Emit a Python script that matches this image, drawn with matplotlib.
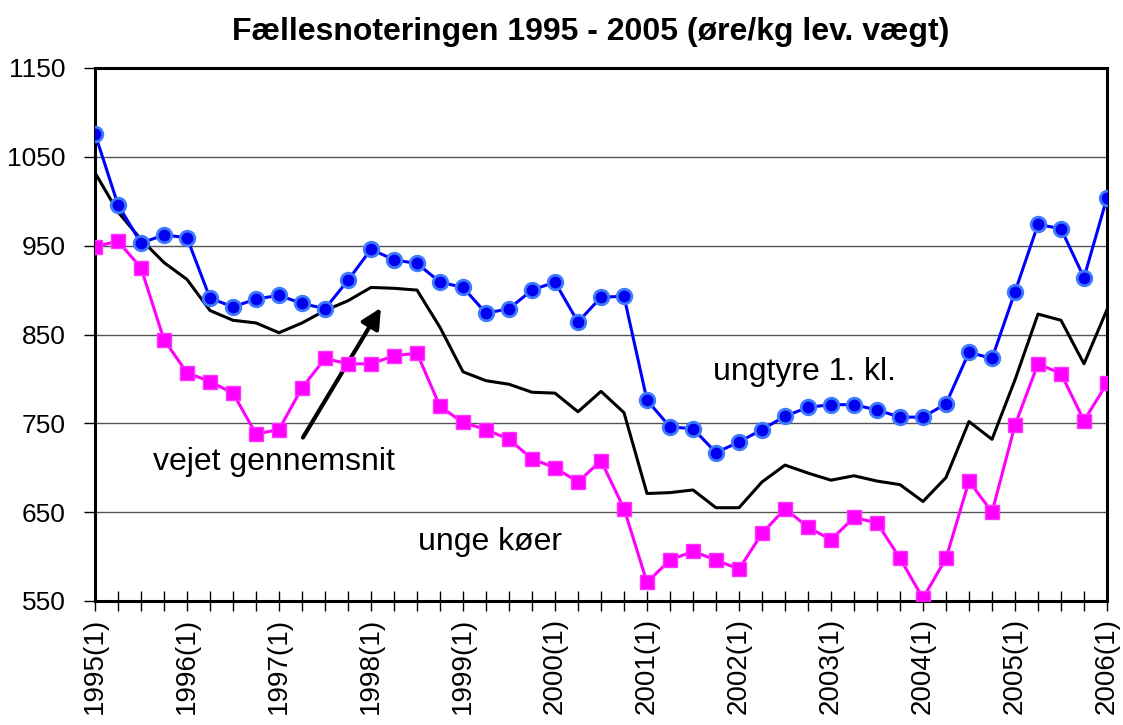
import matplotlib
matplotlib.use("Agg")
import matplotlib.pyplot as plt

plt.rcParams['font.family'] = ['Liberation Sans', 'DejaVu Sans']

title = "Fællesnoteringen 1995 - 2005 (øre/kg lev. vægt)"
years = [str(y) for y in range(1995, 2007)]
tick_labels = []
for y in years[:-1]:
    tick_labels += [f"{y}(1)", "", "", ""]
tick_labels.append(f"{years[-1]}(1)")

ungtyre = [1076, 996, 953, 962, 959, 891, 881, 890, 894, 885, 879, 911, 946,
           934, 930, 909, 903, 874, 879, 900, 909, 864, 892, 893,
           776, 746, 744, 717, 729, 743, 758, 768, 771, 771, 765, 757,
           757, 772, 830, 823, 898, 974, 969, 914, 1004]
unge_koer = [949, 955, 925, 844, 807, 797, 784, 738, 743, 790, 823, 817, 817,
             826, 829, 769, 751, 743, 732, 710, 700, 684, 708, 654,
             571, 596, 606, 596, 586, 626, 654, 633, 619, 644, 638, 598,
             553, 598, 685, 650, 748, 817, 806, 753, 795]
gennemsnit = [1032, 988, 957, 931, 912, 877, 866, 863, 852, 863, 877, 888, 903,
              902, 900, 858, 808, 798, 794, 785, 784, 763, 786, 762,
              671, 672, 675, 655, 655, 684, 703, 694, 686, 691, 685, 681,
              662, 689, 752, 732, 799, 873, 866, 817, 878]

x = list(range(len(ungtyre)))

fig = plt.figure(figsize=(11.23, 7.25), dpi=100)
ax = fig.add_axes([95/1123, 1-601/725, (1107-95)/1123, (601-68)/725])

ax.plot(x, gennemsnit, color='black', lw=2.2, zorder=3)
ax.plot(x, unge_koer, color='#FF00FF', lw=2.2, marker='s', markersize=10,
        markerfacecolor='#FF00FF', markeredgecolor='#FF33FF', zorder=4)
ax.plot(x, ungtyre, color='#0000FF', lw=2.2, marker='o', markersize=10.5,
        markerfacecolor='#0000EE', markeredgecolor='#3D7BFF', markeredgewidth=2, zorder=5)

ax.set_xlim(0, len(x) - 1)
ax.set_ylim(550, 1150)
ax.set_yticks(range(550, 1151, 100))
ax.set_xticks(x)
ax.set_xticklabels(tick_labels, rotation=90, fontsize=20, va='top', ha='center')
ax.tick_params(axis='y', labelsize=19, length=8, width=1, direction='out', pad=13)
ax.tick_params(axis='x', length=14, width=1, direction='inout', pad=5)
ax.yaxis.grid(True, color='#555555', lw=1)
ax.set_axisbelow(True)
for s in ax.spines.values():
    s.set_linewidth(2.2)
    s.set_color('black')

fig.text(591/1123, 1-32/725, title, ha='center', va='center', fontsize=23, fontweight='bold')

ax.text(2.52, 707, "vejet gennemsnit", fontsize=23, va='center', ha='left')
ax.text(26.87, 808, "ungtyre 1. kl.", fontsize=23, va='center', ha='left')
ax.text(14.04, 616, "unge køer", fontsize=23, va='center', ha='left')
ax.annotate("", xy=(12.43, 880), xytext=(9.04, 734),
            arrowprops=dict(arrowstyle='-|>', color='black', lw=3,
                            mutation_scale=30, shrinkA=0, shrinkB=0))

fig.savefig("out.png", dpi=100)
